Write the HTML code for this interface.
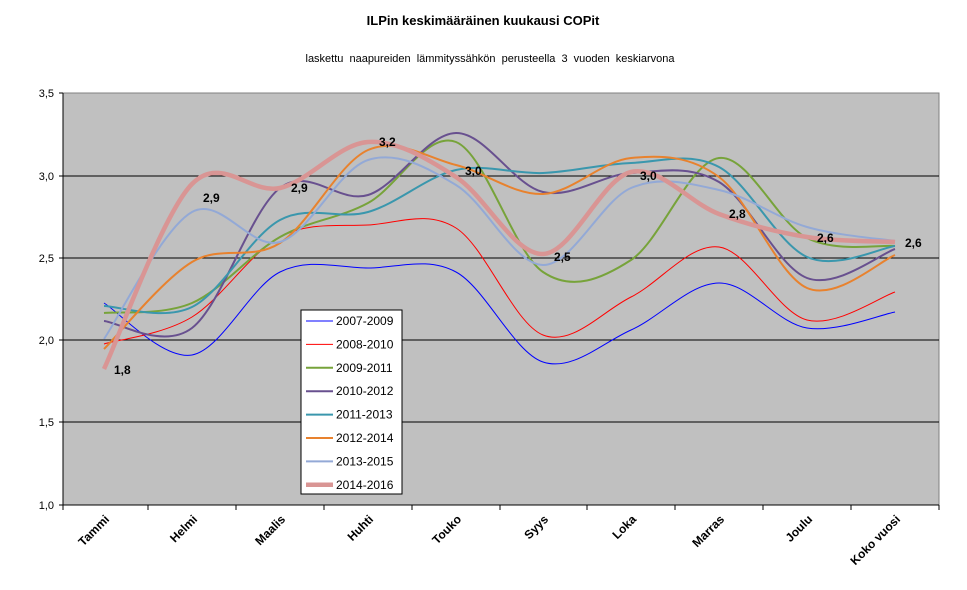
<!DOCTYPE html>
<html><head><meta charset="utf-8"><style>
body{margin:0;background:#fff;}
svg{display:block;font-family:"Liberation Sans",Arial,sans-serif;}
</style></head><body>
<svg id="s" width="967" height="590" viewBox="0 0 967 590">
<rect x="0" y="0" width="967" height="590" fill="#fff"/>
<rect x="63" y="93" width="876" height="412" fill="#c0c0c0" stroke="#808080" stroke-width="1"/>
<g stroke="#000" stroke-width="1">
<line x1="63" y1="176" x2="939" y2="176"/>
<line x1="63" y1="258" x2="939" y2="258"/>
<line x1="63" y1="340" x2="939" y2="340"/>
<line x1="63" y1="422" x2="939" y2="422"/>
<line x1="63" y1="93" x2="63" y2="505"/>
<line x1="63" y1="505" x2="939" y2="505"/>
</g>
<g stroke="#000" stroke-width="1">
<line x1="59" y1="93" x2="63" y2="93"/><line x1="59" y1="176" x2="63" y2="176"/><line x1="59" y1="258" x2="63" y2="258"/><line x1="59" y1="340" x2="63" y2="340"/><line x1="59" y1="422" x2="63" y2="422"/><line x1="59" y1="505" x2="63" y2="505"/>
<line x1="63" y1="505" x2="63" y2="510"/><line x1="148" y1="505" x2="148" y2="510"/><line x1="236" y1="505" x2="236" y2="510"/><line x1="324" y1="505" x2="324" y2="510"/><line x1="412" y1="505" x2="412" y2="510"/><line x1="500" y1="505" x2="500" y2="510"/><line x1="587" y1="505" x2="587" y2="510"/><line x1="675" y1="505" x2="675" y2="510"/><line x1="763" y1="505" x2="763" y2="510"/><line x1="851" y1="505" x2="851" y2="510"/><line x1="939" y1="505" x2="939" y2="510"/>
</g>
<g font-size="11" text-anchor="end" fill="#000">
<text x="54" y="97">3,5</text><text x="54" y="180">3,0</text><text x="54" y="262">2,5</text><text x="54" y="344">2,0</text><text x="54" y="426">1,5</text><text x="54" y="509">1,0</text>
</g>
<text x="483" y="25" font-size="13" font-weight="bold" text-anchor="middle">ILPin keskimääräinen kuukausi COPit</text>
<text x="490" y="62" font-size="11" text-anchor="middle" word-spacing="3">laskettu naapureiden lämmityssähkön perusteella 3 vuoden keskiarvona</text>
<g id="lines" fill="none"></g>
<g font-size="12" font-weight="bold" fill="#000">
<text x="114" y="374">1,8</text><text x="203" y="202">2,9</text><text x="291" y="192">2,9</text><text x="379" y="146">3,2</text><text x="465" y="175">3,0</text><text x="554" y="261">2,5</text><text x="640" y="180">3,0</text><text x="729" y="218">2,8</text><text x="817" y="242">2,6</text><text x="905" y="247">2,6</text>
</g>
<g font-size="12" font-weight="bold" text-anchor="end" fill="#000">
<text transform="translate(110,520) rotate(-45)">Tammi</text>
<text transform="translate(198,520) rotate(-45)">Helmi</text>
<text transform="translate(286,520) rotate(-45)">Maalis</text>
<text transform="translate(374,520) rotate(-45)">Huhti</text>
<text transform="translate(462,520) rotate(-45)">Touko</text>
<text transform="translate(549,520) rotate(-45)">Syys</text>
<text transform="translate(637,520) rotate(-45)">Loka</text>
<text transform="translate(725,520) rotate(-45)">Marras</text>
<text transform="translate(813,520) rotate(-45)">Joulu</text>
<text transform="translate(901,520) rotate(-45)">Koko vuosi</text>
</g>
<rect x="301" y="310" width="101" height="184" fill="#fff" stroke="#000"/>
<g id="leg" font-size="12" fill="#000"></g>
</svg>
<script>
var X=[104,192,280,368,456,543,631,719,807,895];
var S=[
["2007-2009","#0000ff",1,[303,355,272,268,272,362,330,283,328,312]],
["2008-2010","#ff0000",1,[344,317,237,225,228,335,297,247,320,292]],
["2009-2011","#77a33a",2,[313,303,237,203,142,272,260,158,238,246]],
["2010-2012","#68508f",2,[321,328,188,195,133,192,173,182,278,249]],
["2011-2013","#3a97ad",2,[306,307,220,212,170,173,163,167,257,246]],
["2012-2014","#e8822e",2,[349,262,243,150,165,194,158,177,288,255]],
["2013-2015","#93a9d6",2,[339,212,242,160,185,265,188,190,227,241]],
["2014-2016","#d99594",4.5,[369,184,188,142,177,254,172,214,237,242]]];
var g=document.getElementById('lines'),L=document.getElementById('leg'),ns="http://www.w3.org/2000/svg";
S.forEach(function(s,k){
 var y=s[3],d="M"+X[0]+","+y[0];
 for(var i=0;i<9;i++){
  var p0=i?i-1:0,p3=i<8?i+2:9;
  var c1x=X[i]+(X[i+1]-X[p0])/6,c1y=y[i]+(y[i+1]-y[p0])/6;
  var c2x=X[i+1]-(X[p3]-X[i])/6,c2y=y[i+1]-(y[p3]-y[i])/6;
  d+=" C"+c1x+","+c1y+" "+c2x+","+c2y+" "+X[i+1]+","+y[i+1];
 }
 var p=document.createElementNS(ns,"path");p.setAttribute("d",d);p.setAttribute("stroke",s[1]);p.setAttribute("stroke-width",s[2]);g.appendChild(p);
 var ly=321+k*23.4;
 var l=document.createElementNS(ns,"line");l.setAttribute("x1",306);l.setAttribute("x2",333);l.setAttribute("y1",ly);l.setAttribute("y2",ly);l.setAttribute("stroke",s[1]);l.setAttribute("stroke-width",s[2]);L.appendChild(l);
 var t=document.createElementNS(ns,"text");t.setAttribute("x",336);t.setAttribute("y",ly+4);t.textContent=s[0];L.appendChild(t);
});
</script>
</body></html>
